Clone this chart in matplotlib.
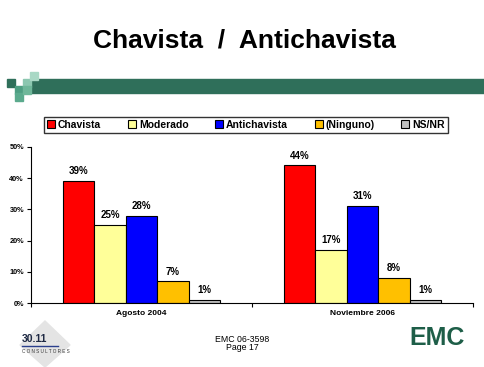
import numpy as np
import matplotlib.pyplot as plt
from matplotlib.patches import Rectangle, Polygon

plt.rcParams['font.family'] = ['Liberation Sans', 'DejaVu Sans']

categories = ['Agosto 2004', 'Noviembre 2006']
series = ['Chavista', 'Moderado', 'Antichavista', '(Ninguno)', 'NS/NR']
values = {
    'Chavista': [39, 44],
    'Moderado': [25, 17],
    'Antichavista': [28, 31],
    '(Ninguno)': [7, 8],
    'NS/NR': [1, 1],
}
colors = ['#FF0000', '#FFFF99', '#0000FF', '#FFC000', '#C0C0C0']
yticks = [0, 10, 20, 30, 40, 50]

W, H = 484, 367
fig = plt.figure(figsize=(W / 100, H / 100), dpi=100)

def fx(px):
    return px / W

def fy(py):
    return 1 - py / H

# title
fig.text(fx(244), fy(40), 'Chavista  /  Antichavista', ha='center', va='center',
         fontsize=19, fontweight='bold')

# green band + squares
dark = '#2F6F5A'
fig.patches.append(Rectangle((fx(30), fy(93)), fx(484 - 30), (93 - 79) / H,
                             transform=fig.transFigure, color=dark, zorder=1))
squares = [(7, 79, dark), (15, 86, '#4E9E82'), (15, 93, '#5BAA8D'),
           (23, 79, '#8CC7B0'), (23, 86, '#6FB79A'), (30, 72, '#A9D8C5')]
for sx, sy, c in squares:
    fig.patches.append(Rectangle((fx(sx), fy(sy + 7.5)), fx(7.5), 7.5 / H,
                                 transform=fig.transFigure, color=c, zorder=1))

# chart
ax = fig.add_axes([fx(31), fy(303.3), fx(473 - 31), (303.3 - 146.7) / H])
x = np.arange(len(categories))
bw = 1 / 7
for i, (name, c) in enumerate(zip(series, colors)):
    pos = x + (i - 2) * bw
    bars = ax.bar(pos, values[name], width=bw, color=c, edgecolor='black',
                  linewidth=0.8, label=name)
    for b, v in zip(bars, values[name]):
        ax.annotate(f'{v}%', (b.get_x() + bw / 2, v), xytext=(0, 3.5),
                    textcoords='offset points', ha='center', va='bottom',
                    fontsize=7, fontweight='bold')

ax.set_xlim(-0.5, 1.5)
ax.set_ylim(0, 50)
ax.set_yticks(yticks)
ax.set_yticklabels([f'{t}%' for t in yticks], fontsize=5.3, fontweight='bold')
ax.set_xticks(x)
ax.set_xticklabels(categories, fontsize=6, fontweight='bold')
ax.tick_params(axis='x', length=0, pad=5)
ax.set_xticks([-0.5, 0.5, 1.5], minor=True)
ax.tick_params(axis='x', which='minor', length=3, direction='out', width=0.8)
ax.tick_params(axis='y', length=3, width=0.8, pad=2)
for s in ['top', 'right']:
    ax.spines[s].set_visible(False)
for s in ['left', 'bottom']:
    ax.spines[s].set_linewidth(0.8)

# legend
leg = fig.legend(loc='lower left', bbox_to_anchor=(fx(44), fy(133), fx(448 - 44), 20 / H),
                 ncol=5, mode='expand', frameon=True, fontsize=7.5,
                 handlelength=0.75, handleheight=0.75, handletextpad=0.3,
                 borderpad=0.3, fancybox=False, borderaxespad=0)
leg.get_frame().set_edgecolor('black')
leg.get_frame().set_linewidth(1.0)
for t in leg.get_texts():
    t.set_fontweight('bold')

# footer
fig.text(fx(242), fy(339), 'EMC 06-3598', ha='center', va='center', fontsize=6.3)
fig.text(fx(242), fy(348), 'Page 17', ha='center', va='center', fontsize=6.3)

# 30.11 logo
fig.patches.append(Polygon([(fx(20), fy(345)), (fx(45), fy(321)), (fx(70), fy(345)),
                            (fx(45), fy(367))], closed=True, transform=fig.transFigure,
                           color='#E4E4E4', zorder=0))
fig.text(fx(22), fy(344), '30.11', ha='left', va='bottom', fontsize=7.5,
         fontweight='bold', color='#1F2A44')
fig.lines.append(plt.Line2D([fx(22), fx(58)], [fy(346), fy(346)],
                            transform=fig.transFigure, color='#2B3F8C', lw=1))
fig.text(fx(22), fy(351.5), 'C O N S U L T O R E S', ha='left', va='center',
         fontsize=3.3, color='#333333')

# EMC logo
fig.text(fx(437), fy(338), 'EMC', ha='center', va='center', fontsize=18,
         fontweight='bold', color='#1E5E48', fontstretch='condensed')

fig.savefig('out.png', dpi=100)
